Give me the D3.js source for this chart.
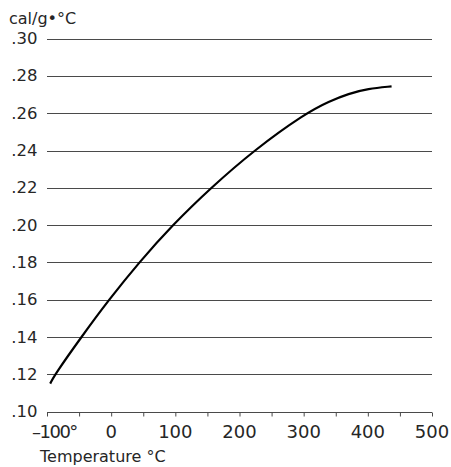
<!DOCTYPE html>
<html>
<head>
<meta charset="utf-8">
<script src="https://cdn.jsdelivr.net/npm/d3@7"></script>
<style>
  html, body { margin: 0; padding: 0; background: #fff; }
  svg { display: block; }
  text { font-family: "DejaVu Sans", sans-serif; fill: #262626; }
</style>
</head>
<body>
<svg id="chart" width="451" height="467"></svg>
<script>
// Data
const temperatures = [-95, -87.5, -46.5, -3.5, 43.5, 95.5, 155.5, 222, 303, 340, 370, 400, 437];
const specificHeat = [0.115, 0.12, 0.14, 0.16, 0.18, 0.20, 0.22, 0.24, 0.26, 0.2664, 0.2705, 0.2731, 0.2744];
const xTickValues = [-100, 0, 100, 200, 300, 400, 500];
const xMinorTicks = [-100, -50, 0, 50, 100, 150, 200, 250, 300, 350, 400, 450, 500];
const yTickValues = [0.10, 0.12, 0.14, 0.16, 0.18, 0.20, 0.22, 0.24, 0.26, 0.28, 0.30];
const yTitle = "cal/g•°C";
const xTitle = "Temperature °C";

const svg = d3.select("#chart");
const x = d3.scaleLinear().domain([-100, 500]).range([47, 432]);
const y = d3.scaleLinear().domain([0.10, 0.30]).range([411.6, 38.6]);

// Gridlines
svg.append("g").selectAll("line").data(yTickValues).join("line")
  .attr("x1", x(-100)).attr("x2", x(500))
  .attr("y1", d => Math.round(y(d)) + 0.5).attr("y2", d => Math.round(y(d)) + 0.5)
  .attr("stroke", "#4a4a4a").attr("stroke-width", 1);

// Y tick labels
svg.append("g").selectAll("text").data(yTickValues).join("text")
  .attr("x", 37.5).attr("y", d => y(d) + 5.5)
  .attr("text-anchor", "end").attr("font-size", 16.5)
  .text(d => d3.format(".2f")(d).replace(/^0/, ""));

// X axis ticks (pointing down)
const xAxis = d3.axisBottom(x).tickValues(xMinorTicks).tickSize(4).tickFormat("");
const gx = svg.append("g").attr("transform", `translate(0,${Math.round(y(0.10)) + 0.5})`).call(xAxis);
gx.select(".domain").remove();
gx.selectAll(".tick line").attr("stroke", "#4a4a4a");

// X tick labels
const gxl = svg.append("g");
gxl.selectAll("text").data(xTickValues.filter(d => d >= 0)).join("text")
  .attr("x", d => x(d)).attr("y", 438)
  .attr("text-anchor", "middle").attr("font-size", 18)
  .text(d => d);
gxl.append("text").datum(xTickValues[0])
  .attr("x", d => x(d) - 15).attr("y", 438)
  .attr("font-size", 18).attr("letter-spacing", -1.5)
  .text(d => "\u2013" + Math.abs(d) + "°");

// Axis titles
svg.append("text").attr("x", 9).attr("y", 24).attr("font-size", 16).text(yTitle);
svg.append("text").attr("x", 40).attr("y", 461.5).attr("font-size", 16).text(xTitle);

// Curve
const line = d3.line()
  .x((d, i) => x(temperatures[i]))
  .y(d => y(d))
  .curve(d3.curveBasis);
svg.append("path").datum(specificHeat)
  .attr("d", line)
  .attr("fill", "none").attr("stroke", "#000").attr("stroke-width", 2.2);
</script>
</body>
</html>
